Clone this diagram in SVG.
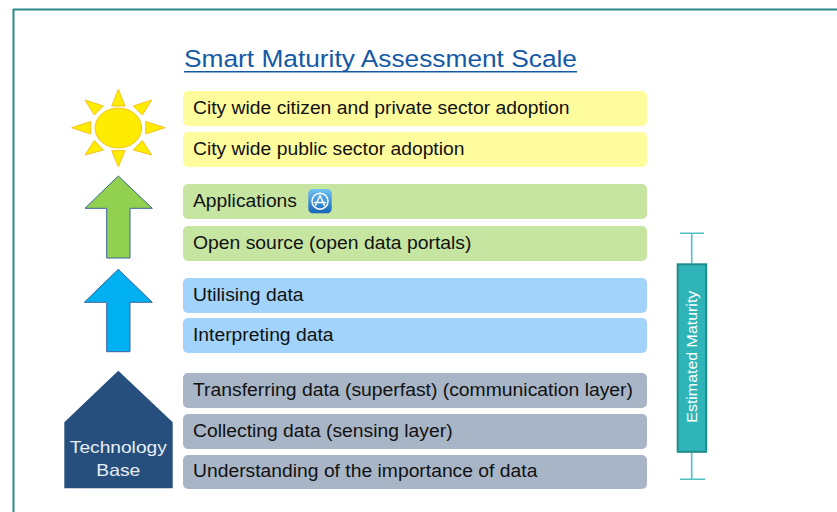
<svg xmlns="http://www.w3.org/2000/svg" width="837" height="512" viewBox="0 0 837 512">
<defs>
<linearGradient id="appg" x1="0" y1="0" x2="0" y2="1">
<stop offset="0" stop-color="#6EC3F5"/>
<stop offset="1" stop-color="#1665B8"/>
</linearGradient>
</defs>
<style>
.row text{font-family:"Liberation Sans",Arial,sans-serif;font-size:17.5px;fill:#111;}
.y > rect.bg{fill:#FFFC9E;}
.g > rect.bg{fill:#C6E5A1;}
.b > rect.bg{fill:#A2D3FA;}
.s > rect.bg{fill:#A7B5C7;}
.arrow{stroke:#3A62A0;stroke-width:1;}
.ray{fill:#FFEC00;stroke:#F7C31A;stroke-width:1;}
.whisk{stroke:#4FC0C3;stroke-width:1.6;fill:none;}
</style>
<rect width="837" height="512" fill="#FFFFFF"/>
<g id="frame" fill="none" stroke="#2A8A8A" stroke-width="2">
<line x1="13" y1="9.5" x2="837" y2="9.5"/>
<line x1="13.5" y1="9" x2="13.5" y2="512"/>
</g>
<g id="title">
<text x="184" y="66.7" font-family="&quot;Liberation Sans&quot;,Arial,sans-serif" font-size="24.5" fill="#1559A5" textLength="393" lengthAdjust="spacingAndGlyphs">Smart Maturity Assessment Scale</text>
<line x1="184" y1="71.8" x2="577" y2="71.8" stroke="#1559A5" stroke-width="1.5"/>
</g>
<g id="sun">
<polygon class="ray" points="118.3,89.3 111.7,106 125,106"/>
<polygon class="ray" points="118.3,166.7 111.7,150.7 125,150.7"/>
<polygon class="ray" points="71.7,127.7 90.7,121.5 90.7,134"/>
<polygon class="ray" points="165,127.7 145.7,121.5 145.7,134"/>
<polygon class="ray" points="85,100 103.3,106 94.3,115"/>
<polygon class="ray" points="151.7,100 133.3,106 142.3,115"/>
<polygon class="ray" points="85,155 94.3,140.5 103.3,150"/>
<polygon class="ray" points="151.7,155 142.3,140.5 133.3,150"/>
<ellipse class="ray" cx="118.3" cy="128" rx="23.3" ry="20"/>
</g>
<g id="arrow-green">
<polygon class="arrow" fill="#92D050" points="118.3,176 152.3,208.3 130,208.3 130,258 106.7,258 106.7,208.3 85,208.3"/>
</g>
<g id="arrow-blue">
<polygon class="arrow" fill="#00B0F0" points="118.3,269.3 152.3,302.3 130,302.3 130,351.7 106.7,351.7 106.7,302.3 84.3,302.3"/>
</g>
<g id="technology-base">
<polygon fill="#264F7E" points="118.3,370.7 172.7,422.3 172.7,488.3 64.3,488.3 64.3,422.3"/>
<text x="118.3" y="453" font-family="&quot;Liberation Sans&quot;,Arial,sans-serif" font-size="16.5" fill="#E8EEF5" text-anchor="middle" textLength="97" lengthAdjust="spacingAndGlyphs">Technology</text>
<text x="118.3" y="476" font-family="&quot;Liberation Sans&quot;,Arial,sans-serif" font-size="16.5" fill="#E8EEF5" text-anchor="middle" textLength="44" lengthAdjust="spacingAndGlyphs">Base</text>
</g>
<g id="row1" class="row y"><rect class="bg" x="183" y="91" width="464" height="35" rx="5"/><text x="193" y="114" textLength="376.5" lengthAdjust="spacingAndGlyphs">City wide citizen and private sector adoption</text></g>
<g id="row2" class="row y"><rect class="bg" x="183" y="132" width="464" height="35" rx="5"/><text x="193" y="154.5" textLength="271.5" lengthAdjust="spacingAndGlyphs">City wide public sector adoption</text></g>
<g id="row3" class="row g"><rect class="bg" x="183" y="184" width="464" height="35" rx="5"/><text x="193" y="206.5" textLength="104" lengthAdjust="spacingAndGlyphs">Applications</text>
<g id="app-icon">
<rect x="308.3" y="189" width="23.4" height="24.3" rx="4.5" fill="url(#appg)"/>
<circle cx="320" cy="201.2" r="8" fill="none" stroke="#FFFFFF" stroke-width="1.4"/>
<path d="M320,195.5 L315.5,205.5 M320,195.5 L324.5,205.5 M314.5,202.5 L325.5,202.5" fill="none" stroke="#FFFFFF" stroke-width="1.4" stroke-linecap="round"/>
</g></g>
<g id="row4" class="row g"><rect class="bg" x="183" y="226" width="464" height="35" rx="5"/><text x="193" y="248.5" textLength="278.5" lengthAdjust="spacingAndGlyphs">Open source (open data portals)</text></g>
<g id="row5" class="row b"><rect class="bg" x="183" y="278" width="464" height="35" rx="5"/><text x="193" y="300.5" textLength="110.5" lengthAdjust="spacingAndGlyphs">Utilising data</text></g>
<g id="row6" class="row b"><rect class="bg" x="183" y="318" width="464" height="35" rx="5"/><text x="193" y="340.5" textLength="140.5" lengthAdjust="spacingAndGlyphs">Interpreting data</text></g>
<g id="row7" class="row s"><rect class="bg" x="183" y="373" width="464" height="35" rx="5"/><text x="193" y="395.5" textLength="440" lengthAdjust="spacingAndGlyphs">Transferring data (superfast) (communication layer)</text></g>
<g id="row8" class="row s"><rect class="bg" x="183" y="414" width="464" height="35" rx="5"/><text x="193" y="436.5" textLength="259.6" lengthAdjust="spacingAndGlyphs">Collecting data (sensing layer)</text></g>
<g id="row9" class="row s"><rect class="bg" x="183" y="455" width="464" height="34" rx="5"/><text x="193" y="477" textLength="344.4" lengthAdjust="spacingAndGlyphs">Understanding of the importance of data</text></g>
<g id="estimated-maturity">
<path class="whisk" d="M680,233.3 H704 M691.7,233.3 V263.3 M691.7,452.3 V479.3 M680,479.3 H705"/>
<rect x="677.7" y="264.3" width="28.5" height="187.5" fill="#2FB5B8" stroke="#1F8B8B" stroke-width="2"/>
<text transform="translate(697,356.7) rotate(-90)" x="0" y="0" font-family="&quot;Liberation Sans&quot;,Arial,sans-serif" font-size="15" fill="#FFFFFF" text-anchor="middle" textLength="132" lengthAdjust="spacingAndGlyphs">Estimated Maturity</text>
</g>
</svg>
